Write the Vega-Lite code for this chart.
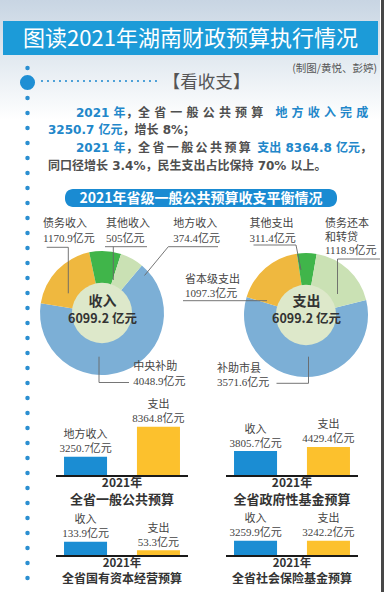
{
"$schema": "https://vega.github.io/schema/vega-lite/v6.json",
"padding": 0,
"background": "#ffffff",
"spacing": 0,
"bounds": "full",
"config": {
  "view": {"stroke": null},
  "font": "Noto Sans CJK SC",
  "title": {"orient": "bottom", "anchor": "middle", "frame": "group", "offset": 1, "font": "Noto Sans CJK SC", "fontWeight": "bold", "color": "#333333", "subtitleFont": "Noto Sans CJK SC", "subtitleFontWeight": "bold", "subtitleColor": "#333333", "subtitlePadding": 4}
},
"datasets": {
  "balance": [
    {"side": "收入", "item": "中央补助", "value": 4048.9, "label": "中央补助\n4048.9亿元"},
    {"side": "收入", "item": "债务收入", "value": 1170.9, "label": "债务收入\n1170.9亿元"},
    {"side": "收入", "item": "其他收入", "value": 505, "label": "其他收入\n505亿元"},
    {"side": "收入", "item": "地方收入", "value": 374.4, "label": "地方收入\n374.4亿元"},
    {"side": "支出", "item": "补助市县", "value": 3571.6, "label": "补助市县\n3571.6亿元"},
    {"side": "支出", "item": "省本级支出", "value": 1097.3, "label": "省本级支出\n1097.3亿元"},
    {"side": "支出", "item": "其他支出", "value": 311.4, "label": "其他支出\n311.4亿元"},
    {"side": "支出", "item": "债务还本和转贷", "value": 1118.9, "label": "债务还本\n和转贷\n1118.9亿元"}
  ],
  "budgets": [
    {"budget": "全省一般公共预算", "kind": "收入", "value": 3250.7, "label": "地方收入\n3250.7亿元"},
    {"budget": "全省一般公共预算", "kind": "支出", "value": 8364.8, "label": "支出\n8364.8亿元"},
    {"budget": "全省政府性基金预算", "kind": "收入", "value": 3805.7, "label": "收入\n3805.7亿元"},
    {"budget": "全省政府性基金预算", "kind": "支出", "value": 4429.4, "label": "支出\n4429.4亿元"},
    {"budget": "全省国有资本经营预算", "kind": "收入", "value": 133.9, "label": "收入\n133.9亿元"},
    {"budget": "全省国有资本经营预算", "kind": "支出", "value": 53.3, "label": "支出\n53.3亿元"},
    {"budget": "全省社会保险基金预算", "kind": "收入", "value": 3259.9, "label": "收入\n3259.9亿元"},
    {"budget": "全省社会保险基金预算", "kind": "支出", "value": 3242.2, "label": "支出\n3242.2亿元"}
  ]
},
"hconcat": [
{
"vconcat": [
{
  "width": 380, "height": 210,
  "data": {"values": [{}]},
  "layer": [
    {"mark": {"type": "rect", "color": {"gradient": "linear", "x1": 0, "y1": 0, "x2": 0, "y2": 1, "stops": [{"offset": 0, "color": "#c8d5e3"}, {"offset": 0.45, "color": "#e0e8ef"}, {"offset": 1, "color": "#ffffff"}]}},
     "encoding": {"x": {"datum": 0, "type": "quantitative", "scale": {"domain": [0, 380], "nice": false, "zero": false}, "axis": null}, "x2": {"datum": 380}, "y": {"datum": 0, "type": "quantitative", "scale": {"domain": [0, 210], "nice": false, "zero": false, "reverse": true}, "axis": null}, "y2": {"datum": 120}}},
    {"mark": {"type": "rect", "color": "#1c9bd8"},
     "encoding": {"x": {"datum": 3, "type": "quantitative", "scale": {"domain": [0, 380], "nice": false, "zero": false}, "axis": null}, "x2": {"datum": 378}, "y": {"datum": 21, "type": "quantitative", "scale": {"domain": [0, 210], "nice": false, "zero": false, "reverse": true}, "axis": null}, "y2": {"datum": 55}}},
    {"mark": {"type": "text", "align": "center", "baseline": "middle", "font": "Noto Sans CJK SC", "fontSize": 22, "color": "#ffffff"},
     "encoding": {"x": {"datum": 190.5, "type": "quantitative", "scale": {"domain": [0, 380], "nice": false, "zero": false}, "axis": null}, "y": {"datum": 38.5, "type": "quantitative", "scale": {"domain": [0, 210], "nice": false, "zero": false, "reverse": true}, "axis": null}, "text": {"value": "图读2021年湖南财政预算执行情况"}}},
    {"mark": {"type": "text", "align": "right", "baseline": "middle", "font": "Noto Sans CJK SC", "fontSize": 10.5, "color": "#555555"},
     "encoding": {"x": {"datum": 377, "type": "quantitative", "scale": {"domain": [0, 380], "nice": false, "zero": false}, "axis": null}, "y": {"datum": 69, "type": "quantitative", "scale": {"domain": [0, 210], "nice": false, "zero": false, "reverse": true}, "axis": null}, "text": {"value": "(制图/黄悦、彭婷)"}}},
    {"mark": {"type": "rule", "color": "#2b8fd1", "strokeWidth": 2.2, "strokeCap": "round", "strokeDash": [0, 6]},
     "encoding": {"x": {"datum": 42, "type": "quantitative", "scale": {"domain": [0, 380], "nice": false, "zero": false}, "axis": null}, "x2": {"datum": 160}, "y": {"datum": 81, "type": "quantitative", "scale": {"domain": [0, 210], "nice": false, "zero": false, "reverse": true}, "axis": null}}},
    {"mark": {"type": "rule", "color": "#2b8fd1", "strokeWidth": 4.5, "strokeCap": "round", "strokeDash": [0, 15]},
     "encoding": {"x": {"datum": 27.5, "type": "quantitative", "scale": {"domain": [0, 380], "nice": false, "zero": false}, "axis": null}, "y": {"datum": 68, "type": "quantitative", "scale": {"domain": [0, 210], "nice": false, "zero": false, "reverse": true}, "axis": null}, "y2": {"datum": 206}}},
    {"mark": {"type": "circle", "size": 227, "color": "#1f8fd4", "opacity": 1},
     "encoding": {"x": {"datum": 27.5, "type": "quantitative", "scale": {"domain": [0, 380], "nice": false, "zero": false}, "axis": null}, "y": {"datum": 82.5, "type": "quantitative", "scale": {"domain": [0, 210], "nice": false, "zero": false, "reverse": true}, "axis": null}}},
    {"mark": {"type": "text", "align": "center", "baseline": "middle", "font": "Noto Sans CJK SC", "fontSize": 17.5, "color": "#555555"},
     "encoding": {"x": {"datum": 206.5, "type": "quantitative", "scale": {"domain": [0, 380], "nice": false, "zero": false}, "axis": null}, "y": {"datum": 83, "type": "quantitative", "scale": {"domain": [0, 210], "nice": false, "zero": false, "reverse": true}, "axis": null}, "text": {"value": "【看收支】"}}},
    {"mark": {"type": "text", "align": "left", "baseline": "middle", "font": "DejaVu Sans, Noto Sans CJK SC", "fontSize": 12, "fontWeight": "bold", "color": "#2287ca"},
     "encoding": {"x": {"datum": 76, "type": "quantitative", "scale": {"domain": [0, 380], "nice": false, "zero": false}, "axis": null}, "y": {"datum": 112.7, "type": "quantitative", "scale": {"domain": [0, 210], "nice": false, "zero": false, "reverse": true}, "axis": null}, "text": {"value": "2021 年"}}},
    {"mark": {"type": "text", "align": "left", "baseline": "middle", "font": "DejaVu Sans, Noto Sans CJK SC", "fontSize": 12, "fontWeight": "bold", "color": "#4f4f4f"},
     "encoding": {"x": {"datum": 126, "type": "quantitative", "scale": {"domain": [0, 380], "nice": false, "zero": false}, "axis": null}, "y": {"datum": 112.7, "type": "quantitative", "scale": {"domain": [0, 210], "nice": false, "zero": false, "reverse": true}, "axis": null}, "text": {"value": "，全 省 一 般 公 共 预 算"}}},
    {"mark": {"type": "text", "align": "right", "baseline": "middle", "font": "DejaVu Sans, Noto Sans CJK SC", "fontSize": 12, "fontWeight": "bold", "color": "#2287ca"},
     "encoding": {"x": {"datum": 368.3, "type": "quantitative", "scale": {"domain": [0, 380], "nice": false, "zero": false}, "axis": null}, "y": {"datum": 112.7, "type": "quantitative", "scale": {"domain": [0, 210], "nice": false, "zero": false, "reverse": true}, "axis": null}, "text": {"value": "地 方 收 入 完 成"}}},
    {"mark": {"type": "text", "align": "left", "baseline": "middle", "font": "DejaVu Sans, Noto Sans CJK SC", "fontSize": 12, "fontWeight": "bold", "color": "#2287ca"},
     "encoding": {"x": {"datum": 48, "type": "quantitative", "scale": {"domain": [0, 380], "nice": false, "zero": false}, "axis": null}, "y": {"datum": 130, "type": "quantitative", "scale": {"domain": [0, 210], "nice": false, "zero": false, "reverse": true}, "axis": null}, "text": {"value": "3250.7 亿元"}}},
    {"mark": {"type": "text", "align": "left", "baseline": "middle", "font": "DejaVu Sans, Noto Sans CJK SC", "fontSize": 12, "fontWeight": "bold", "color": "#4f4f4f"},
     "encoding": {"x": {"datum": 122.5, "type": "quantitative", "scale": {"domain": [0, 380], "nice": false, "zero": false}, "axis": null}, "y": {"datum": 130, "type": "quantitative", "scale": {"domain": [0, 210], "nice": false, "zero": false, "reverse": true}, "axis": null}, "text": {"value": "，增长 8%；"}}},
    {"mark": {"type": "text", "align": "left", "baseline": "middle", "font": "DejaVu Sans, Noto Sans CJK SC", "fontSize": 12, "fontWeight": "bold", "color": "#2287ca"},
     "encoding": {"x": {"datum": 76, "type": "quantitative", "scale": {"domain": [0, 380], "nice": false, "zero": false}, "axis": null}, "y": {"datum": 148, "type": "quantitative", "scale": {"domain": [0, 210], "nice": false, "zero": false, "reverse": true}, "axis": null}, "text": {"value": "2021 年"}}},
    {"mark": {"type": "text", "align": "left", "baseline": "middle", "font": "DejaVu Sans, Noto Sans CJK SC", "fontSize": 12, "fontWeight": "bold", "color": "#4f4f4f"},
     "encoding": {"x": {"datum": 126, "type": "quantitative", "scale": {"domain": [0, 380], "nice": false, "zero": false}, "axis": null}, "y": {"datum": 148, "type": "quantitative", "scale": {"domain": [0, 210], "nice": false, "zero": false, "reverse": true}, "axis": null}, "text": {"value": "，全\u2009省\u2009一\u2009般\u2009公\u2009共\u2009预\u2009算"}}},
    {"mark": {"type": "text", "align": "right", "baseline": "middle", "font": "DejaVu Sans, Noto Sans CJK SC", "fontSize": 12, "fontWeight": "bold", "color": "#2287ca"},
     "encoding": {"x": {"datum": 360, "type": "quantitative", "scale": {"domain": [0, 380], "nice": false, "zero": false}, "axis": null}, "y": {"datum": 148, "type": "quantitative", "scale": {"domain": [0, 210], "nice": false, "zero": false, "reverse": true}, "axis": null}, "text": {"value": "支出 8364.8 亿元"}}},
    {"mark": {"type": "text", "align": "left", "baseline": "middle", "font": "DejaVu Sans, Noto Sans CJK SC", "fontSize": 12, "fontWeight": "bold", "color": "#4f4f4f"},
     "encoding": {"x": {"datum": 360, "type": "quantitative", "scale": {"domain": [0, 380], "nice": false, "zero": false}, "axis": null}, "y": {"datum": 148, "type": "quantitative", "scale": {"domain": [0, 210], "nice": false, "zero": false, "reverse": true}, "axis": null}, "text": {"value": "，"}}},
    {"mark": {"type": "text", "align": "left", "baseline": "middle", "font": "DejaVu Sans, Noto Sans CJK SC", "fontSize": 12, "fontWeight": "bold", "color": "#4f4f4f"},
     "encoding": {"x": {"datum": 48, "type": "quantitative", "scale": {"domain": [0, 380], "nice": false, "zero": false}, "axis": null}, "y": {"datum": 166, "type": "quantitative", "scale": {"domain": [0, 210], "nice": false, "zero": false, "reverse": true}, "axis": null}, "text": {"value": "同口径增长 3.4%，民生支出占比保持 70% 以上。"}}},
    {"mark": {"type": "rect", "color": "#1a8bd2", "cornerRadius": 8},
     "encoding": {"x": {"datum": 65, "type": "quantitative", "scale": {"domain": [0, 380], "nice": false, "zero": false}, "axis": null}, "x2": {"datum": 337}, "y": {"datum": 189, "type": "quantitative", "scale": {"domain": [0, 210], "nice": false, "zero": false, "reverse": true}, "axis": null}, "y2": {"datum": 207}}},
    {"mark": {"type": "text", "align": "center", "baseline": "middle", "font": "Noto Sans CJK SC", "fontSize": 14, "fontWeight": "bold", "color": "#ffffff"},
     "encoding": {"x": {"datum": 201, "type": "quantitative", "scale": {"domain": [0, 380], "nice": false, "zero": false}, "axis": null}, "y": {"datum": 198.5, "type": "quantitative", "scale": {"domain": [0, 210], "nice": false, "zero": false, "reverse": true}, "axis": null}, "text": {"value": "2021年省级一般公共预算收支平衡情况"}}}
  ]
},
{
  "width": 380, "height": 182,
  "data": {"name": "balance"},
  "resolve": {"scale": {"theta": "independent"}},
  "layer": [
    {"data": {"values": [{}]}, "mark": {"type": "rule", "color": "#2b8fd1", "strokeWidth": 4.5, "strokeCap": "round", "strokeDash": [0, 15]},
     "encoding": {"x": {"datum": 27.5, "type": "quantitative", "scale": {"domain": [0, 380], "nice": false, "zero": false}, "axis": null}, "y": {"datum": 8, "type": "quantitative", "scale": {"domain": [0, 182], "nice": false, "zero": false, "reverse": true}, "axis": null}, "y2": {"datum": 178}}},
    {"transform": [{"filter": "datum.side == '收入'"}],
     "mark": {"type": "arc", "outerRadius": 62, "innerRadius": 28},
     "encoding": {
       "theta": {"field": "value", "type": "quantitative", "stack": true, "scale": {"range": [0.698, 6.981]}},
       "order": {"field": "item", "type": "ordinal", "sort": "ascending"},
       "color": {"field": "item", "type": "nominal", "legend": null, "scale": {"domain": ["中央补助", "债务收入", "其他收入", "地方收入", "补助市县", "省本级支出", "其他支出", "债务还本和转贷"], "range": ["#7cafd6", "#efb83f", "#40b54a", "#cae1b4", "#7cafd6", "#efb83f", "#40b54a", "#cae1b4"]}},
       "x": {"datum": 102, "type": "quantitative", "scale": {"domain": [0, 380], "nice": false, "zero": false}, "axis": null},
       "y": {"datum": 103, "type": "quantitative", "scale": {"domain": [0, 182], "nice": false, "zero": false, "reverse": true}, "axis": null}}},
    {"transform": [{"filter": "datum.side == '支出'"}],
     "mark": {"type": "arc", "outerRadius": 62, "innerRadius": 28},
     "encoding": {
       "theta": {"field": "value", "type": "quantitative", "stack": true, "scale": {"range": [1.326, 7.609]}},
       "order": {"field": "item", "type": "ordinal", "sort": "descending"},
       "color": {"field": "item", "type": "nominal", "legend": null},
       "x": {"datum": 306, "type": "quantitative", "scale": {"domain": [0, 380], "nice": false, "zero": false}, "axis": null},
       "y": {"datum": 105, "type": "quantitative", "scale": {"domain": [0, 182], "nice": false, "zero": false, "reverse": true}, "axis": null}}},
    {"data": {"values": [{}]}, "mark": {"type": "circle", "size": 3632, "color": "#dde8ca", "opacity": 1},
     "encoding": {"x": {"datum": 102, "type": "quantitative", "scale": {"domain": [0, 380], "nice": false, "zero": false}, "axis": null}, "y": {"datum": 103, "type": "quantitative", "scale": {"domain": [0, 182], "nice": false, "zero": false, "reverse": true}, "axis": null}}},
    {"data": {"values": [{}]}, "mark": {"type": "circle", "size": 3632, "color": "#dde8ca", "opacity": 1},
     "encoding": {"x": {"datum": 306, "type": "quantitative", "scale": {"domain": [0, 380], "nice": false, "zero": false}, "axis": null}, "y": {"datum": 105, "type": "quantitative", "scale": {"domain": [0, 182], "nice": false, "zero": false, "reverse": true}, "axis": null}}},
    {"data": {"values": [{}]}, "mark": {"type": "text", "align": "center", "baseline": "middle", "font": "Noto Sans CJK SC", "fontSize": 14, "fontWeight": "bold", "color": "#333333"},
     "encoding": {"x": {"datum": 102.5, "type": "quantitative", "scale": {"domain": [0, 380], "nice": false, "zero": false}, "axis": null}, "y": {"datum": 92.2, "type": "quantitative", "scale": {"domain": [0, 182], "nice": false, "zero": false, "reverse": true}, "axis": null}, "text": {"value": "收入"}}},
    {"data": {"values": [{}]}, "mark": {"type": "text", "align": "center", "baseline": "middle", "font": "Noto Sans CJK SC", "fontSize": 12.5, "fontWeight": "bold", "color": "#333333"},
     "encoding": {"x": {"datum": 102.5, "type": "quantitative", "scale": {"domain": [0, 380], "nice": false, "zero": false}, "axis": null}, "y": {"datum": 109.4, "type": "quantitative", "scale": {"domain": [0, 182], "nice": false, "zero": false, "reverse": true}, "axis": null}, "text": {"value": "6099.2 亿元"}}},
    {"data": {"values": [{}]}, "mark": {"type": "text", "align": "center", "baseline": "middle", "font": "Noto Sans CJK SC", "fontSize": 14, "fontWeight": "bold", "color": "#333333"},
     "encoding": {"x": {"datum": 306.5, "type": "quantitative", "scale": {"domain": [0, 380], "nice": false, "zero": false}, "axis": null}, "y": {"datum": 92.2, "type": "quantitative", "scale": {"domain": [0, 182], "nice": false, "zero": false, "reverse": true}, "axis": null}, "text": {"value": "支出"}}},
    {"data": {"values": [{}]}, "mark": {"type": "text", "align": "center", "baseline": "middle", "font": "Noto Sans CJK SC", "fontSize": 12.5, "fontWeight": "bold", "color": "#333333"},
     "encoding": {"x": {"datum": 306.5, "type": "quantitative", "scale": {"domain": [0, 380], "nice": false, "zero": false}, "axis": null}, "y": {"datum": 109.4, "type": "quantitative", "scale": {"domain": [0, 182], "nice": false, "zero": false, "reverse": true}, "axis": null}, "text": {"value": "6099.2 亿元"}}},
    {"transform": [{"filter": "datum.item == '债务收入'"}], "layer": [
      {"mark": {"type": "text", "align": "left", "baseline": "middle", "lineBreak": "\n", "lineHeight": 15, "font": "Liberation Serif, Noto Sans CJK SC", "fontSize": 11, "color": "#444444"},
       "encoding": {"x": {"datum": 43, "type": "quantitative", "scale": {"domain": [0, 380], "nice": false, "zero": false}, "axis": null}, "y": {"datum": 14.3, "type": "quantitative", "scale": {"domain": [0, 182], "nice": false, "zero": false, "reverse": true}, "axis": null}, "text": {"field": "label"}}},
      {"mark": {"type": "rule", "color": "#666666", "strokeWidth": 0.9},
       "encoding": {"x": {"datum": 46.7, "type": "quantitative", "scale": {"domain": [0, 380], "nice": false, "zero": false}, "axis": null}, "x2": {"datum": 68.3}, "y": {"datum": 37.3, "type": "quantitative", "scale": {"domain": [0, 182], "nice": false, "zero": false, "reverse": true}, "axis": null}}},
      {"mark": {"type": "rule", "color": "#666666", "strokeWidth": 0.9},
       "encoding": {"x": {"datum": 68.3, "type": "quantitative", "scale": {"domain": [0, 380], "nice": false, "zero": false}, "axis": null}, "y": {"datum": 37.3, "type": "quantitative", "scale": {"domain": [0, 182], "nice": false, "zero": false, "reverse": true}, "axis": null}, "y2": {"datum": 83.3}}}
    ]},
    {"transform": [{"filter": "datum.item == '其他收入'"}], "layer": [
      {"mark": {"type": "text", "align": "left", "baseline": "middle", "lineBreak": "\n", "lineHeight": 15, "font": "Liberation Serif, Noto Sans CJK SC", "fontSize": 11, "color": "#444444"},
       "encoding": {"x": {"datum": 106, "type": "quantitative", "scale": {"domain": [0, 380], "nice": false, "zero": false}, "axis": null}, "y": {"datum": 14.3, "type": "quantitative", "scale": {"domain": [0, 182], "nice": false, "zero": false, "reverse": true}, "axis": null}, "text": {"field": "label"}}},
      {"mark": {"type": "rule", "color": "#666666", "strokeWidth": 0.9},
       "encoding": {"x": {"datum": 105, "type": "quantitative", "scale": {"domain": [0, 380], "nice": false, "zero": false}, "axis": null}, "x2": {"datum": 147}, "y": {"datum": 36.7, "type": "quantitative", "scale": {"domain": [0, 182], "nice": false, "zero": false, "reverse": true}, "axis": null}}},
      {"mark": {"type": "rule", "color": "#666666", "strokeWidth": 0.9},
       "encoding": {"x": {"datum": 113.3, "type": "quantitative", "scale": {"domain": [0, 380], "nice": false, "zero": false}, "axis": null}, "y": {"datum": 36.7, "type": "quantitative", "scale": {"domain": [0, 182], "nice": false, "zero": false, "reverse": true}, "axis": null}, "y2": {"datum": 70}}}
    ]},
    {"transform": [{"filter": "datum.item == '地方收入'"}], "layer": [
      {"mark": {"type": "text", "align": "left", "baseline": "middle", "lineBreak": "\n", "lineHeight": 15, "font": "Liberation Serif, Noto Sans CJK SC", "fontSize": 11, "color": "#444444"},
       "encoding": {"x": {"datum": 173.3, "type": "quantitative", "scale": {"domain": [0, 380], "nice": false, "zero": false}, "axis": null}, "y": {"datum": 14.3, "type": "quantitative", "scale": {"domain": [0, 182], "nice": false, "zero": false, "reverse": true}, "axis": null}, "text": {"field": "label"}}},
      {"mark": {"type": "rule", "color": "#666666", "strokeWidth": 0.9},
       "encoding": {"x": {"datum": 168.3, "type": "quantitative", "scale": {"domain": [0, 380], "nice": false, "zero": false}, "axis": null}, "x2": {"datum": 218}, "y": {"datum": 36.7, "type": "quantitative", "scale": {"domain": [0, 182], "nice": false, "zero": false, "reverse": true}, "axis": null}}},
      {"mark": {"type": "rule", "color": "#666666", "strokeWidth": 0.9},
       "encoding": {"x": {"datum": 168.3, "type": "quantitative", "scale": {"domain": [0, 380], "nice": false, "zero": false}, "axis": null}, "x2": {"datum": 144.5}, "y": {"datum": 36.7, "type": "quantitative", "scale": {"domain": [0, 182], "nice": false, "zero": false, "reverse": true}, "axis": null}, "y2": {"datum": 65.5}}}
    ]},
    {"transform": [{"filter": "datum.item == '中央补助'"}], "layer": [
      {"mark": {"type": "text", "align": "left", "baseline": "middle", "lineBreak": "\n", "lineHeight": 14.4, "font": "Liberation Serif, Noto Sans CJK SC", "fontSize": 11, "color": "#444444"},
       "encoding": {"x": {"datum": 133.3, "type": "quantitative", "scale": {"domain": [0, 380], "nice": false, "zero": false}, "axis": null}, "y": {"datum": 157.3, "type": "quantitative", "scale": {"domain": [0, 182], "nice": false, "zero": false, "reverse": true}, "axis": null}, "text": {"field": "label"}}},
      {"mark": {"type": "rule", "color": "#666666", "strokeWidth": 0.9},
       "encoding": {"x": {"datum": 99, "type": "quantitative", "scale": {"domain": [0, 380], "nice": false, "zero": false}, "axis": null}, "y": {"datum": 146.7, "type": "quantitative", "scale": {"domain": [0, 182], "nice": false, "zero": false, "reverse": true}, "axis": null}, "y2": {"datum": 172.5}}},
      {"mark": {"type": "rule", "color": "#666666", "strokeWidth": 0.9},
       "encoding": {"x": {"datum": 99, "type": "quantitative", "scale": {"domain": [0, 380], "nice": false, "zero": false}, "axis": null}, "x2": {"datum": 129}, "y": {"datum": 172.5, "type": "quantitative", "scale": {"domain": [0, 182], "nice": false, "zero": false, "reverse": true}, "axis": null}}}
    ]},
    {"transform": [{"filter": "datum.item == '其他支出'"}], "layer": [
      {"mark": {"type": "text", "align": "left", "baseline": "middle", "lineBreak": "\n", "lineHeight": 15, "font": "Liberation Serif, Noto Sans CJK SC", "fontSize": 11, "color": "#444444"},
       "encoding": {"x": {"datum": 249.5, "type": "quantitative", "scale": {"domain": [0, 380], "nice": false, "zero": false}, "axis": null}, "y": {"datum": 13.8, "type": "quantitative", "scale": {"domain": [0, 182], "nice": false, "zero": false, "reverse": true}, "axis": null}, "text": {"field": "label"}}},
      {"mark": {"type": "rule", "color": "#666666", "strokeWidth": 0.9},
       "encoding": {"x": {"datum": 253.5, "type": "quantitative", "scale": {"domain": [0, 380], "nice": false, "zero": false}, "axis": null}, "x2": {"datum": 296}, "y": {"datum": 35, "type": "quantitative", "scale": {"domain": [0, 182], "nice": false, "zero": false, "reverse": true}, "axis": null}}},
      {"mark": {"type": "rule", "color": "#666666", "strokeWidth": 0.9},
       "encoding": {"x": {"datum": 296, "type": "quantitative", "scale": {"domain": [0, 380], "nice": false, "zero": false}, "axis": null}, "x2": {"datum": 301}, "y": {"datum": 35, "type": "quantitative", "scale": {"domain": [0, 182], "nice": false, "zero": false, "reverse": true}, "axis": null}, "y2": {"datum": 60}}}
    ]},
    {"transform": [{"filter": "datum.item == '债务还本和转贷'"}], "layer": [
      {"mark": {"type": "text", "align": "left", "baseline": "middle", "lineBreak": "\n", "lineHeight": 13.5, "font": "Liberation Serif, Noto Sans CJK SC", "fontSize": 11, "color": "#444444"},
       "encoding": {"x": {"datum": 325, "type": "quantitative", "scale": {"domain": [0, 380], "nice": false, "zero": false}, "axis": null}, "y": {"datum": 14.3, "type": "quantitative", "scale": {"domain": [0, 182], "nice": false, "zero": false, "reverse": true}, "axis": null}, "text": {"field": "label"}}},
      {"mark": {"type": "rule", "color": "#666666", "strokeWidth": 0.9},
       "encoding": {"x": {"datum": 337.5, "type": "quantitative", "scale": {"domain": [0, 380], "nice": false, "zero": false}, "axis": null}, "x2": {"datum": 380}, "y": {"datum": 49, "type": "quantitative", "scale": {"domain": [0, 182], "nice": false, "zero": false, "reverse": true}, "axis": null}}},
      {"mark": {"type": "rule", "color": "#666666", "strokeWidth": 0.9},
       "encoding": {"x": {"datum": 337.5, "type": "quantitative", "scale": {"domain": [0, 380], "nice": false, "zero": false}, "axis": null}, "y": {"datum": 49, "type": "quantitative", "scale": {"domain": [0, 182], "nice": false, "zero": false, "reverse": true}, "axis": null}, "y2": {"datum": 84}}}
    ]},
    {"transform": [{"filter": "datum.item == '省本级支出'"}], "layer": [
      {"mark": {"type": "text", "align": "left", "baseline": "middle", "lineBreak": "\n", "lineHeight": 14, "font": "Liberation Serif, Noto Sans CJK SC", "fontSize": 11, "color": "#444444"},
       "encoding": {"x": {"datum": 185, "type": "quantitative", "scale": {"domain": [0, 380], "nice": false, "zero": false}, "axis": null}, "y": {"datum": 70, "type": "quantitative", "scale": {"domain": [0, 182], "nice": false, "zero": false, "reverse": true}, "axis": null}, "text": {"field": "label"}}},
      {"mark": {"type": "rule", "color": "#666666", "strokeWidth": 0.9},
       "encoding": {"x": {"datum": 183, "type": "quantitative", "scale": {"domain": [0, 380], "nice": false, "zero": false}, "axis": null}, "x2": {"datum": 267}, "y": {"datum": 90.7, "type": "quantitative", "scale": {"domain": [0, 182], "nice": false, "zero": false, "reverse": true}, "axis": null}}}
    ]},
    {"transform": [{"filter": "datum.item == '补助市县'"}], "layer": [
      {"mark": {"type": "text", "align": "left", "baseline": "middle", "lineBreak": "\n", "lineHeight": 13.5, "font": "Liberation Serif, Noto Sans CJK SC", "fontSize": 11, "color": "#444444"},
       "encoding": {"x": {"datum": 217, "type": "quantitative", "scale": {"domain": [0, 380], "nice": false, "zero": false}, "axis": null}, "y": {"datum": 159, "type": "quantitative", "scale": {"domain": [0, 182], "nice": false, "zero": false, "reverse": true}, "axis": null}, "text": {"field": "label"}}},
      {"mark": {"type": "rule", "color": "#666666", "strokeWidth": 0.9},
       "encoding": {"x": {"datum": 276.5, "type": "quantitative", "scale": {"domain": [0, 380], "nice": false, "zero": false}, "axis": null}, "x2": {"datum": 308.5}, "y": {"datum": 173.3, "type": "quantitative", "scale": {"domain": [0, 182], "nice": false, "zero": false, "reverse": true}, "axis": null}}},
      {"mark": {"type": "rule", "color": "#666666", "strokeWidth": 0.9},
       "encoding": {"x": {"datum": 308.5, "type": "quantitative", "scale": {"domain": [0, 380], "nice": false, "zero": false}, "axis": null}, "y": {"datum": 146.7, "type": "quantitative", "scale": {"domain": [0, 182], "nice": false, "zero": false, "reverse": true}, "axis": null}, "y2": {"datum": 173.3}}}
    ]}
  ]
},
{
"vconcat": [
{
  "hconcat": [
    {"width": 55, "height": 120, "data": {"values": [{}]},
     "mark": {"type": "rule", "color": "#2b8fd1", "strokeWidth": 4.5, "strokeCap": "round", "strokeDash": [0, 15]},
     "encoding": {"x": {"datum": 27.5, "type": "quantitative", "scale": {"domain": [0, 55], "nice": false, "zero": false}, "axis": null}, "y": {"datum": 6, "type": "quantitative", "scale": {"domain": [0, 120], "nice": false, "zero": false, "reverse": true}, "axis": null}, "y2": {"datum": 116}}},
    {"hconcat": [
      {"width": 132, "height": 84, "data": {"name": "budgets"},
       "transform": [{"filter": "datum.budget == '全省一般公共预算'"}],
       "title": {"text": "2021年", "subtitle": "全省一般公共预算", "fontSize": 12, "subtitleFontSize": 13},
       "layer": [
         {"mark": {"type": "bar"}, "encoding": {"x": {"field": "kind", "type": "nominal", "sort": ["收入", "支出"], "axis": null, "scale": {"paddingInner": 0.41, "paddingOuter": 0.11}}, "y": {"field": "value", "type": "quantitative", "axis": null, "scale": {"domain": [0, 14250], "nice": false}}, "fill": {"field": "kind", "type": "nominal", "legend": null, "scale": {"domain": ["收入", "支出"], "range": ["#1b8dd3", "#fcc12d"]}}}},
         {"mark": {"type": "text", "align": "center", "baseline": "middle", "dy": -21.5, "lineBreak": "\n", "lineHeight": 14, "font": "Liberation Serif, Noto Sans CJK SC", "fontSize": 11, "color": "#444444"}, "encoding": {"x": {"field": "kind", "type": "nominal", "sort": ["收入", "支出"]}, "y": {"field": "value", "type": "quantitative"}, "text": {"field": "label"}}},
         {"mark": {"type": "rule", "color": "#1a1a1a", "strokeWidth": 2}, "encoding": {"y": {"datum": 0}}}
       ]},
      {"width": 132, "height": 84, "data": {"name": "budgets"},
       "transform": [{"filter": "datum.budget == '全省政府性基金预算'"}],
       "title": {"text": "2021年", "subtitle": "全省政府性基金预算", "fontSize": 12, "subtitleFontSize": 13},
       "layer": [
         {"mark": {"type": "bar"}, "encoding": {"x": {"field": "kind", "type": "nominal", "sort": ["收入", "支出"], "axis": null, "scale": {"paddingInner": 0.41, "paddingOuter": 0.11}}, "y": {"field": "value", "type": "quantitative", "axis": null, "scale": {"domain": [0, 12800], "nice": false}}, "fill": {"field": "kind", "type": "nominal", "legend": null, "scale": {"domain": ["收入", "支出"], "range": ["#1b8dd3", "#fcc12d"]}}}},
         {"mark": {"type": "text", "align": "center", "baseline": "middle", "dy": -21.5, "lineBreak": "\n", "lineHeight": 14, "font": "Liberation Serif, Noto Sans CJK SC", "fontSize": 11, "color": "#444444"}, "encoding": {"x": {"field": "kind", "type": "nominal", "sort": ["收入", "支出"]}, "y": {"field": "value", "type": "quantitative"}, "text": {"field": "label"}}},
         {"mark": {"type": "rule", "color": "#1a1a1a", "strokeWidth": 2}, "encoding": {"y": {"datum": 0}}}
       ]}
    ], "spacing": 36, "bounds": "full"}
  ],
  "spacing": 0, "bounds": "full"
},
{
  "hconcat": [
    {"width": 55, "height": 80, "data": {"values": [{}]},
     "mark": {"type": "rule", "color": "#2b8fd1", "strokeWidth": 4.5, "strokeCap": "round", "strokeDash": [0, 15]},
     "encoding": {"x": {"datum": 27.5, "type": "quantitative", "scale": {"domain": [0, 55], "nice": false, "zero": false}, "axis": null}, "y": {"datum": 6, "type": "quantitative", "scale": {"domain": [0, 80], "nice": false, "zero": false, "reverse": true}, "axis": null}, "y2": {"datum": 76}}},
    {"hconcat": [
      {"width": 132, "height": 44, "data": {"name": "budgets"},
       "transform": [{"filter": "datum.budget == '全省国有资本经营预算'"}],
       "title": {"text": "2021年", "subtitle": "全省国有资本经营预算", "fontSize": 11.5, "subtitleFontSize": 12},
       "layer": [
         {"mark": {"type": "bar"}, "encoding": {"x": {"field": "kind", "type": "nominal", "sort": ["收入", "支出"], "axis": null, "scale": {"paddingInner": 0.41, "paddingOuter": 0.11}}, "y": {"field": "value", "type": "quantitative", "axis": null, "scale": {"domain": [0, 412], "nice": false}}, "fill": {"field": "kind", "type": "nominal", "legend": null, "scale": {"domain": ["收入", "支出"], "range": ["#1b8dd3", "#fcc12d"]}}}},
         {"mark": {"type": "text", "align": "center", "baseline": "middle", "dy": -21.5, "lineBreak": "\n", "lineHeight": 14, "font": "Liberation Serif, Noto Sans CJK SC", "fontSize": 11, "color": "#444444"}, "encoding": {"x": {"field": "kind", "type": "nominal", "sort": ["收入", "支出"]}, "y": {"field": "value", "type": "quantitative"}, "text": {"field": "label"}}},
         {"mark": {"type": "rule", "color": "#1a1a1a", "strokeWidth": 2}, "encoding": {"y": {"datum": 0}}}
       ]},
      {"width": 132, "height": 44, "data": {"name": "budgets"},
       "transform": [{"filter": "datum.budget == '全省社会保险基金预算'"}],
       "title": {"text": "2021年", "subtitle": "全省社会保险基金预算", "fontSize": 11.5, "subtitleFontSize": 12},
       "layer": [
         {"mark": {"type": "bar"}, "encoding": {"x": {"field": "kind", "type": "nominal", "sort": ["收入", "支出"], "axis": null, "scale": {"paddingInner": 0.41, "paddingOuter": 0.11}}, "y": {"field": "value", "type": "quantitative", "axis": null, "scale": {"domain": [0, 9375], "nice": false}}, "fill": {"field": "kind", "type": "nominal", "legend": null, "scale": {"domain": ["收入", "支出"], "range": ["#1b8dd3", "#fcc12d"]}}}},
         {"mark": {"type": "text", "align": "center", "baseline": "middle", "dy": -21.5, "lineBreak": "\n", "lineHeight": 14, "font": "Liberation Serif, Noto Sans CJK SC", "fontSize": 11, "color": "#444444"}, "encoding": {"x": {"field": "kind", "type": "nominal", "sort": ["收入", "支出"]}, "y": {"field": "value", "type": "quantitative"}, "text": {"field": "label"}}},
         {"mark": {"type": "rule", "color": "#1a1a1a", "strokeWidth": 2}, "encoding": {"y": {"datum": 0}}}
       ]}
    ], "spacing": 36, "bounds": "full"}
  ],
  "spacing": 0, "bounds": "full"
}
],
"spacing": 0, "bounds": "full"
}
],
"spacing": 0, "bounds": "flush"
},
{"width": 4, "height": 592, "view": {"fill": "#474747", "stroke": null}, "data": {"values": [{}]}, "mark": {"type": "rect", "color": "#474747"}}
]
}
